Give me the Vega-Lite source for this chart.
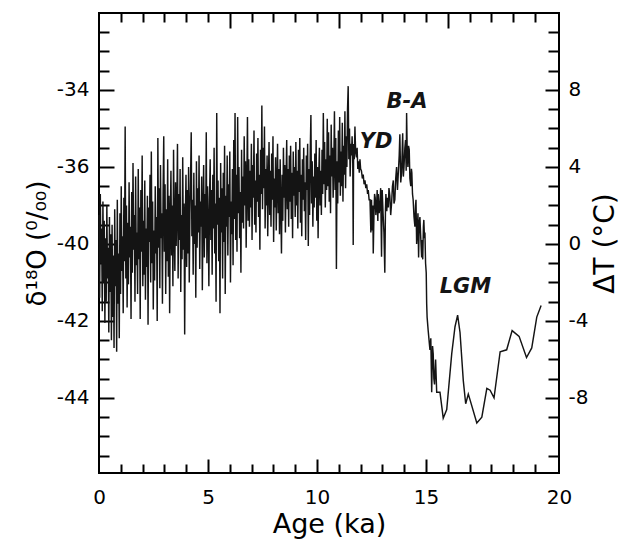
{
"$schema":"https://vega.github.io/schema/vega-lite/v6.json",
"width":460,"height":460,
"autosize":{"type":"none"},
"padding":{"left":99,"top":13,"right":66,"bottom":69},
"background":"white",
"config":{"view":{"stroke":"black","strokeWidth":2},"font":"DejaVu Sans",
"axis":{"domain":false,"grid":false,"labelFont":"DejaVu Sans","titleFont":"DejaVu Sans","labelColor":"black","titleColor":"black","tickColor":"black","tickWidth":2,"titleFontWeight":"normal","labelFontSize":20}},
"datasets":{
"series":[
{"age":0,"dT":1.5},{"age":0.03,"dT":-2.8},{"age":0.06,"dT":2.6},{"age":0.09,"dT":-1.0},{"age":0.12,"dT":0.8},{"age":0.15,"dT":-3.5},{"age":0.18,"dT":2.2},{"age":0.21,"dT":-2.0},{"age":0.24,"dT":1.2},{"age":0.27,"dT":-4.1},
{"age":0.3,"dT":0.3},{"age":0.33,"dT":-3.0},{"age":0.36,"dT":2.0},{"age":0.39,"dT":-1.8},{"age":0.42,"dT":-0.2},{"age":0.45,"dT":-4.6},{"age":0.48,"dT":1.4},{"age":0.51,"dT":-2.5},{"age":0.54,"dT":0.5},{"age":0.57,"dT":-5.0},
{"age":0.6,"dT":1.0},{"age":0.63,"dT":-3.8},{"age":0.66,"dT":-0.6},{"age":0.69,"dT":-5.4},{"age":0.72,"dT":1.8},{"age":0.75,"dT":-2.2},{"age":0.78,"dT":0.2},{"age":0.81,"dT":-5.6},{"age":0.84,"dT":2.3},{"age":0.87,"dT":-3.1},
{"age":0.9,"dT":-0.5},{"age":0.93,"dT":-4.9},{"age":0.96,"dT":1.6},{"age":0.99,"dT":-2.6},{"age":1.02,"dT":3.0},{"age":1.05,"dT":-1.4},{"age":1.08,"dT":0.4},{"age":1.11,"dT":-3.6},{"age":1.14,"dT":2.4},{"age":1.17,"dT":-0.9},
{"age":1.2,"dT":6.1},{"age":1.23,"dT":-1.8},{"age":1.26,"dT":2.0},{"age":1.29,"dT":-3.3},{"age":1.32,"dT":1.1},{"age":1.35,"dT":-2.1},{"age":1.38,"dT":3.2},{"age":1.41,"dT":-0.7},{"age":1.44,"dT":0.9},{"age":1.47,"dT":-3.9},
{"age":1.5,"dT":2.7},{"age":1.53,"dT":-1.5},{"age":1.56,"dT":4.2},{"age":1.59,"dT":-0.3},{"age":1.62,"dT":1.5},{"age":1.65,"dT":-3.0},{"age":1.68,"dT":3.5},{"age":1.71,"dT":-1.1},{"age":1.74,"dT":0.6},{"age":1.77,"dT":-2.6},
{"age":1.8,"dT":3.9},{"age":1.83,"dT":-0.8},{"age":1.86,"dT":1.9},{"age":1.89,"dT":-3.9},{"age":1.92,"dT":2.8},{"age":1.95,"dT":-0.4},{"age":1.98,"dT":4.6},{"age":2.01,"dT":-2.2},{"age":2.04,"dT":1.2},{"age":2.07,"dT":-1.6},
{"age":2.1,"dT":3.3},{"age":2.13,"dT":-2.9},{"age":2.16,"dT":0.8},{"age":2.19,"dT":-1.2},{"age":2.22,"dT":2.5},{"age":2.25,"dT":-4.2},{"age":2.28,"dT":1.9},{"age":2.31,"dT":0.1},{"age":2.34,"dT":3.6},{"age":2.37,"dT":-2.0},
{"age":2.4,"dT":4.8},{"age":2.43,"dT":-1.0},{"age":2.46,"dT":2.2},{"age":2.49,"dT":-3.4},{"age":2.52,"dT":0.7},{"age":2.55,"dT":-1.9},{"age":2.58,"dT":3.0},{"age":2.61,"dT":-0.5},{"age":2.64,"dT":1.4},{"age":2.67,"dT":-4.0},
{"age":2.7,"dT":5.5},{"age":2.73,"dT":-0.2},{"age":2.76,"dT":2.9},{"age":2.79,"dT":-2.3},{"age":2.82,"dT":4.1},{"age":2.85,"dT":0.3},{"age":2.88,"dT":1.6},{"age":2.91,"dT":-3.1},{"age":2.94,"dT":2.7},{"age":2.97,"dT":5.6},
{"age":3.0,"dT":-0.4},{"age":3.03,"dT":3.1},{"age":3.06,"dT":-2.6},{"age":3.09,"dT":1.8},{"age":3.12,"dT":-0.9},{"age":3.15,"dT":4.4},{"age":3.18,"dT":-1.7},{"age":3.21,"dT":2.5},{"age":3.24,"dT":-3.6},{"age":3.27,"dT":1.3},
{"age":3.3,"dT":3.8},{"age":3.33,"dT":-0.6},{"age":3.36,"dT":2.0},{"age":3.39,"dT":-2.2},{"age":3.42,"dT":4.9},{"age":3.45,"dT":0.5},{"age":3.48,"dT":-1.4},{"age":3.51,"dT":3.2},{"age":3.54,"dT":-0.1},{"age":3.57,"dT":1.9},
{"age":3.6,"dT":5.2},{"age":3.63,"dT":-1.8},{"age":3.66,"dT":2.6},{"age":3.69,"dT":0.2},{"age":3.72,"dT":3.9},{"age":3.75,"dT":-2.5},{"age":3.78,"dT":1.5},{"age":3.81,"dT":-0.8},{"age":3.84,"dT":4.5},{"age":3.87,"dT":-0.3},
{"age":3.9,"dT":2.1},{"age":3.93,"dT":-4.7},{"age":3.96,"dT":1.2},{"age":3.99,"dT":3.6},{"age":4.02,"dT":-1.2},{"age":4.05,"dT":2.8},{"age":4.08,"dT":-0.5},{"age":4.11,"dT":4.0},{"age":4.14,"dT":-2.0},{"age":4.17,"dT":1.6},
{"age":4.2,"dT":3.4},{"age":4.23,"dT":5.8},{"age":4.26,"dT":0.4},{"age":4.29,"dT":2.3},{"age":4.32,"dT":-1.6},{"age":4.35,"dT":3.7},{"age":4.38,"dT":0.0},{"age":4.41,"dT":2.0},{"age":4.44,"dT":-2.8},{"age":4.47,"dT":4.3},
{"age":4.5,"dT":-0.2},{"age":4.53,"dT":2.9},{"age":4.56,"dT":0.6},{"age":4.59,"dT":4.6},{"age":4.62,"dT":-1.3},{"age":4.65,"dT":2.2},{"age":4.68,"dT":0.9},{"age":4.71,"dT":3.5},{"age":4.74,"dT":-2.4},{"age":4.77,"dT":1.7},
{"age":4.8,"dT":4.1},{"age":4.83,"dT":-0.7},{"age":4.86,"dT":2.6},{"age":4.89,"dT":0.3},{"age":4.92,"dT":5.8},{"age":4.95,"dT":-1.0},{"age":4.98,"dT":3.0},{"age":5.01,"dT":1.1},{"age":5.04,"dT":-2.2},{"age":5.07,"dT":2.4},
{"age":5.1,"dT":4.4},{"age":5.13,"dT":0.2},{"age":5.16,"dT":2.8},{"age":5.19,"dT":-1.6},{"age":5.22,"dT":3.6},{"age":5.25,"dT":0.8},{"age":5.28,"dT":5.0},{"age":5.31,"dT":-0.5},{"age":5.34,"dT":2.1},{"age":5.37,"dT":-3.0},
{"age":5.4,"dT":6.8},{"age":5.43,"dT":1.0},{"age":5.46,"dT":3.3},{"age":5.49,"dT":-0.9},{"age":5.52,"dT":2.4},{"age":5.55,"dT":-3.6},{"age":5.58,"dT":4.2},{"age":5.61,"dT":0.6},{"age":5.64,"dT":2.9},{"age":5.67,"dT":-1.8},
{"age":5.7,"dT":3.7},{"age":5.73,"dT":0.1},{"age":5.76,"dT":5.1},{"age":5.79,"dT":-2.6},{"age":5.82,"dT":2.5},{"age":5.85,"dT":0.9},{"age":5.88,"dT":4.6},{"age":5.91,"dT":-0.6},{"age":5.94,"dT":3.1},{"age":5.97,"dT":1.4},
{"age":6.0,"dT":4.8},{"age":6.03,"dT":-2.0},{"age":6.06,"dT":2.2},{"age":6.09,"dT":0.5},{"age":6.12,"dT":3.9},{"age":6.15,"dT":-1.1},{"age":6.18,"dT":5.4},{"age":6.21,"dT":1.3},{"age":6.24,"dT":6.8},{"age":6.27,"dT":0.2},
{"age":6.3,"dT":3.6},{"age":6.33,"dT":-0.4},{"age":6.36,"dT":6.6},{"age":6.39,"dT":1.6},{"age":6.42,"dT":4.0},{"age":6.45,"dT":0.3},{"age":6.48,"dT":2.7},{"age":6.51,"dT":-1.5},{"age":6.54,"dT":4.9},{"age":6.57,"dT":1.1},
{"age":6.6,"dT":3.5},{"age":6.63,"dT":0.8},{"age":6.66,"dT":5.6},{"age":6.69,"dT":2.0},{"age":6.72,"dT":4.3},{"age":6.75,"dT":-0.2},{"age":6.78,"dT":3.0},{"age":6.81,"dT":6.6},{"age":6.84,"dT":1.2},{"age":6.87,"dT":4.4},
{"age":6.9,"dT":0.9},{"age":6.93,"dT":3.8},{"age":6.96,"dT":1.9},{"age":6.99,"dT":5.2},{"age":7.02,"dT":0.2},{"age":7.05,"dT":4.1},{"age":7.08,"dT":2.4},{"age":7.11,"dT":5.9},{"age":7.14,"dT":1.0},{"age":7.17,"dT":3.3},
{"age":7.2,"dT":0.6},{"age":7.23,"dT":4.7},{"age":7.26,"dT":2.2},{"age":7.29,"dT":5.5},{"age":7.32,"dT":1.4},{"age":7.35,"dT":3.6},{"age":7.38,"dT":-0.3},{"age":7.41,"dT":4.9},{"age":7.44,"dT":2.6},{"age":7.47,"dT":7.2},
{"age":7.5,"dT":1.8},{"age":7.53,"dT":5.0},{"age":7.56,"dT":2.9},{"age":7.59,"dT":6.1},{"age":7.62,"dT":0.8},{"age":7.65,"dT":3.9},{"age":7.68,"dT":2.0},{"age":7.71,"dT":4.6},{"age":7.74,"dT":0.4},{"age":7.77,"dT":3.2},
{"age":7.8,"dT":5.3},{"age":7.83,"dT":1.5},{"age":7.86,"dT":3.8},{"age":7.89,"dT":0.9},{"age":7.92,"dT":4.7},{"age":7.95,"dT":2.3},{"age":7.98,"dT":5.6},{"age":8.01,"dT":0.1},{"age":8.04,"dT":3.4},{"age":8.07,"dT":1.9},
{"age":8.1,"dT":4.5},{"age":8.13,"dT":0.7},{"age":8.16,"dT":3.1},{"age":8.19,"dT":5.2},{"age":8.22,"dT":1.6},{"age":8.25,"dT":3.9},{"age":8.28,"dT":0.5},{"age":8.31,"dT":4.4},{"age":8.34,"dT":2.0},{"age":8.37,"dT":-0.5},
{"age":8.4,"dT":3.6},{"age":8.43,"dT":1.2},{"age":8.46,"dT":5.0},{"age":8.49,"dT":2.4},{"age":8.52,"dT":4.1},{"age":8.55,"dT":0.6},{"age":8.58,"dT":3.3},{"age":8.61,"dT":5.4},{"age":8.64,"dT":1.8},{"age":8.67,"dT":3.9},
{"age":8.7,"dT":0.9},{"age":8.73,"dT":4.6},{"age":8.76,"dT":2.2},{"age":8.79,"dT":5.1},{"age":8.82,"dT":1.3},{"age":8.85,"dT":3.7},{"age":8.88,"dT":0.3},{"age":8.91,"dT":4.8},{"age":8.94,"dT":2.5},{"age":8.97,"dT":4.0},
{"age":9.0,"dT":1.4},{"age":9.03,"dT":5.3},{"age":9.06,"dT":2.0},{"age":9.09,"dT":3.8},{"age":9.12,"dT":0.8},{"age":9.15,"dT":4.9},{"age":9.18,"dT":2.7},{"age":9.21,"dT":5.5},{"age":9.24,"dT":1.1},{"age":9.27,"dT":3.6},
{"age":9.3,"dT":0.4},{"age":9.33,"dT":4.4},{"age":9.36,"dT":2.3},{"age":9.39,"dT":5.0},{"age":9.42,"dT":1.7},{"age":9.45,"dT":3.2},{"age":9.48,"dT":0.2},{"age":9.51,"dT":4.6},{"age":9.54,"dT":2.8},{"age":9.57,"dT":5.2},
{"age":9.6,"dT":-0.1},{"age":9.63,"dT":3.9},{"age":9.66,"dT":1.5},{"age":9.69,"dT":4.8},{"age":9.72,"dT":6.7},{"age":9.75,"dT":2.1},{"age":9.78,"dT":4.3},{"age":9.81,"dT":0.9},{"age":9.84,"dT":3.5},{"age":9.87,"dT":1.9},
{"age":9.9,"dT":4.7},{"age":9.93,"dT":2.4},{"age":9.96,"dT":5.4},{"age":9.99,"dT":1.2},{"age":10.02,"dT":4.0},{"age":10.05,"dT":0.3},{"age":10.08,"dT":3.6},{"age":10.11,"dT":5.0},{"age":10.14,"dT":2.0},{"age":10.17,"dT":3.8},
{"age":10.2,"dT":1.5},{"age":10.23,"dT":4.9},{"age":10.26,"dT":2.6},{"age":10.29,"dT":6.8},{"age":10.32,"dT":3.1},{"age":10.35,"dT":5.3},{"age":10.38,"dT":1.9},{"age":10.41,"dT":4.4},{"age":10.44,"dT":2.8},{"age":10.47,"dT":6.5},
{"age":10.5,"dT":3.0},{"age":10.53,"dT":5.8},{"age":10.56,"dT":2.2},{"age":10.59,"dT":4.6},{"age":10.62,"dT":1.6},{"age":10.65,"dT":6.2},{"age":10.68,"dT":3.5},{"age":10.71,"dT":5.0},{"age":10.74,"dT":2.4},{"age":10.77,"dT":4.1},
{"age":10.8,"dT":6.9},{"age":10.83,"dT":2.8},{"age":10.86,"dT":5.5},{"age":10.89,"dT":-1.3},{"age":10.92,"dT":4.3},{"age":10.95,"dT":2.1},{"age":10.98,"dT":5.9},{"age":11.01,"dT":3.2},{"age":11.04,"dT":6.6},{"age":11.07,"dT":2.5},
{"age":11.1,"dT":4.8},{"age":11.13,"dT":3.0},{"age":11.16,"dT":6.3},{"age":11.19,"dT":2.2},{"age":11.22,"dT":5.1},{"age":11.25,"dT":3.6},{"age":11.28,"dT":6.9},{"age":11.31,"dT":2.9},{"age":11.34,"dT":5.6},{"age":11.37,"dT":4.0},
{"age":11.4,"dT":7.0},{"age":11.43,"dT":8.2},{"age":11.46,"dT":4.4},{"age":11.49,"dT":6.0},{"age":11.52,"dT":3.5},{"age":11.55,"dT":5.2},{"age":11.58,"dT":4.6},
{"age":11.61,"dT":5.6},{"age":11.64,"dT":4.2},{"age":11.66,"dT":-0.05},{"age":11.68,"dT":5.2},{"age":11.71,"dT":4.4},{"age":11.74,"dT":6.1},{"age":11.77,"dT":4.8},{"age":11.81,"dT":4.5},{"age":11.84,"dT":5.0},{"age":11.87,"dT":3.9},
{"age":11.9,"dT":4.3},{"age":11.94,"dT":3.7},{"age":11.97,"dT":4.4},{"age":12.0,"dT":3.9},{"age":12.04,"dT":3.8},{"age":12.08,"dT":3.4},{"age":12.12,"dT":3.6},{"age":12.16,"dT":3.1},{"age":12.2,"dT":3.3},{"age":12.24,"dT":2.9},
{"age":12.28,"dT":3.1},{"age":12.32,"dT":2.6},{"age":12.35,"dT":2.8},{"age":12.39,"dT":2.3},{"age":12.43,"dT":2.3},{"age":12.47,"dT":0.6},{"age":12.5,"dT":2.3},{"age":12.53,"dT":0.7},{"age":12.56,"dT":2.0},{"age":12.58,"dT":-0.5},
{"age":12.61,"dT":1.4},{"age":12.64,"dT":2.6},{"age":12.67,"dT":2.4},{"age":12.7,"dT":1.5},{"age":12.73,"dT":1.9},{"age":12.76,"dT":2.8},{"age":12.79,"dT":1.2},{"age":12.81,"dT":2.6},{"age":12.85,"dT":1.6},{"age":12.88,"dT":1.9},
{"age":12.92,"dT":2.9},{"age":12.96,"dT":-0.66},{"age":12.99,"dT":2.8},{"age":13.03,"dT":1.6},{"age":13.07,"dT":0.6},{"age":13.11,"dT":-1.5},{"age":13.14,"dT":1.8},{"age":13.16,"dT":2.6},{"age":13.2,"dT":1.7},{"age":13.23,"dT":2.4},
{"age":13.27,"dT":1.9},{"age":13.3,"dT":2.9},{"age":13.34,"dT":2.5},{"age":13.38,"dT":1.5},{"age":13.42,"dT":2.1},{"age":13.46,"dT":3.0},{"age":13.5,"dT":3.3},{"age":13.53,"dT":2.1},{"age":13.57,"dT":2.3},{"age":13.61,"dT":3.4},
{"age":13.65,"dT":4.0},{"age":13.69,"dT":2.8},{"age":13.73,"dT":3.7},{"age":13.77,"dT":4.6},{"age":13.8,"dT":5.7},{"age":13.84,"dT":3.2},{"age":13.88,"dT":3.7},{"age":13.93,"dT":5.75},{"age":13.96,"dT":3.5},{"age":13.99,"dT":4.0},
{"age":14.03,"dT":5.0},{"age":14.06,"dT":5.4},{"age":14.09,"dT":3.8},{"age":14.11,"dT":6.8},{"age":14.14,"dT":4.6},{"age":14.17,"dT":4.0},{"age":14.2,"dT":5.1},{"age":14.23,"dT":4.9},{"age":14.26,"dT":3.4},{"age":14.3,"dT":3.0},
{"age":14.33,"dT":3.9},{"age":14.35,"dT":3.7},{"age":14.38,"dT":2.6},{"age":14.41,"dT":2.3},{"age":14.45,"dT":1.4},{"age":14.49,"dT":0.9},{"age":14.52,"dT":2.0},{"age":14.54,"dT":2.3},{"age":14.57,"dT":0.0},{"age":14.6,"dT":0.6},
{"age":14.63,"dT":1.6},{"age":14.66,"dT":-0.7},{"age":14.69,"dT":1.1},{"age":14.72,"dT":1.4},{"age":14.76,"dT":0.3},{"age":14.8,"dT":-0.7},{"age":14.83,"dT":0.2},{"age":14.85,"dT":-0.8},{"age":14.88,"dT":0.9},{"age":14.9,"dT":1.25},
{"age":14.93,"dT":0.3},{"age":14.95,"dT":0.6},{"age":14.98,"dT":-1.0},{"age":15.01,"dT":-1.5},{"age":15.03,"dT":-3.1},{"age":15.05,"dT":-3.8},{"age":15.1,"dT":-4.5},{"age":15.18,"dT":-5.5},{"age":15.22,"dT":-4.9},{"age":15.26,"dT":-7.7},
{"age":15.3,"dT":-5.3},{"age":15.33,"dT":-5.7},{"age":15.36,"dT":-7.0},{"age":15.39,"dT":-7.3},{"age":15.44,"dT":-6.0},{"age":15.49,"dT":-7.7},{"age":15.64,"dT":-7.7},{"age":15.79,"dT":-9.05},{"age":15.95,"dT":-8.6},{"age":16.18,"dT":-5.7},
{"age":16.33,"dT":-4.3},{"age":16.45,"dT":-3.7},{"age":16.56,"dT":-4.6},{"age":16.71,"dT":-7.1},{"age":16.82,"dT":-8.3},{"age":16.94,"dT":-7.8},{"age":17.02,"dT":-8.1},{"age":17.33,"dT":-9.3},{"age":17.56,"dT":-9.0},{"age":17.79,"dT":-7.5},
{"age":17.94,"dT":-7.6},{"age":18.12,"dT":-8.0},{"age":18.4,"dT":-5.6},{"age":18.7,"dT":-5.5},{"age":18.95,"dT":-4.5},{"age":19.27,"dT":-4.8},{"age":19.61,"dT":-5.9},{"age":19.85,"dT":-5.4},{"age":20.08,"dT":-3.8},{"age":20.28,"dT":-3.2}
],
"notes":[{"label":"B-A","age":14.13,"dT":7.38},{"label":"YD","age":12.71,"dT":5.28},{"label":"LGM","age":16.81,"dT":-2.24}],
"anchor":[{"age":0,"dT":0}]
},
"layer":[
{"data":{"name":"series"},"mark":{"type":"line","color":"#141414","strokeWidth":1.45},
 "encoding":{
  "x":{"field":"age","type":"quantitative","scale":{"domain":[0,21.1],"nice":false,"zero":false},
   "axis":{"orient":"bottom","ticks":false,"values":[0,5,10,15,21.1],"labelExpr":"datum.value > 20 ? '20' : toString(datum.value)","labelFlush":false,"labelPadding":14,"labelFontSize":20,"title":"Age (ka)","titleFontSize":27,"titlePadding":4}},
  "y":{"field":"dT","type":"quantitative","scale":{"domain":[-11.9,12],"nice":false,"zero":false},
   "axis":{"orient":"left","ticks":false,"values":[-8,-4,0,4,8],"labelExpr":"datum.value == 8 ? '-34' : datum.value == 4 ? '-36' : datum.value == 0 ? '-40' : datum.value == -4 ? '-42' : '-44'","labelPadding":10,"labelFontSize":20,"title":"δ¹⁸O (⁰/₀₀)","titleFontSize":26,"titlePadding":6}}}},
{"data":{"name":"notes"},"mark":{"type":"text","font":"DejaVu Sans","fontSize":21,"fontWeight":"bold","fontStyle":"italic","color":"#141414","align":"center","baseline":"middle"},
 "encoding":{
  "x":{"field":"age","type":"quantitative","scale":{"domain":[0,21.1],"nice":false,"zero":false},
   "axis":{"orient":"bottom","labels":false,"title":null,"tickSize":-9,"values":[1,2,3,4,6,7,8,9,11,12,13,14,16,17,18,19,20]}},
  "y":{"field":"dT","type":"quantitative","scale":{"domain":[-11.9,12],"nice":false,"zero":false},
   "axis":{"orient":"left","labels":false,"title":null,"tickSize":-10,"values":[-11,-10,-9,-7,-6,-5,-3,-2,-1,1,2,3,5,6,7,9,10,11]}},
  "text":{"field":"label"}}},
{"data":{"name":"anchor"},"mark":{"type":"point","opacity":0},
 "encoding":{
  "x":{"field":"age","type":"quantitative","scale":{"domain":[0,21.1],"nice":false,"zero":false},
   "axis":{"orient":"bottom","labels":false,"title":null,"tickSize":-14,"values":[5,10,15]}},
  "y":{"field":"dT","type":"quantitative","scale":{"domain":[-11.9,12],"nice":false,"zero":false},
   "axis":{"orient":"left","labels":false,"title":null,"tickSize":-15,"values":[-8,-4,0,4,8]}}}},
{"data":{"name":"anchor"},"mark":{"type":"point","opacity":0},
 "encoding":{
  "x":{"field":"age","type":"quantitative","scale":{"domain":[0,21.1],"nice":false,"zero":false},
   "axis":{"orient":"top","labels":false,"title":null,"tickSize":-9,"values":[1,2,3,4,5,7,8,9,10,12,13,14,15,17,18,19,20]}},
  "y":{"field":"dT","type":"quantitative","scale":{"domain":[-11.9,12],"nice":false,"zero":false},
   "axis":{"orient":"right","labels":false,"title":null,"tickSize":-11,"values":[-11,-10,-9,-7,-6,-5,-3,-2,-1,1,2,3,5,6,7,9,10,11]}}}},
{"data":{"name":"anchor"},"mark":{"type":"point","opacity":0},
 "encoding":{
  "x":{"field":"age","type":"quantitative","scale":{"domain":[0,21.1],"nice":false,"zero":false},
   "axis":{"orient":"top","labels":false,"title":null,"tickSize":-15,"values":[6,11,16]}},
  "y":{"field":"dT","type":"quantitative","scale":{"domain":[-11.9,12],"nice":false,"zero":false},
   "axis":{"orient":"right","labels":false,"title":null,"tickSize":-14,"values":[-8,-4,0,4,8]}}}},
{"data":{"name":"anchor"},"mark":{"type":"point","opacity":0},
 "encoding":{
  "x":{"field":"age","type":"quantitative","scale":{"domain":[0,21.1],"nice":false,"zero":false},"axis":null},
  "y":{"field":"dT","type":"quantitative","scale":{"domain":[-11.9,12],"nice":false,"zero":false},
   "axis":{"orient":"right","ticks":false,"values":[-8,-4,0,4,8],"labelExpr":"toString(datum.value)","labelPadding":9,"labelFontSize":20,"title":"ΔT (°C)","titleFontSize":28,"titleAngle":270,"titleBaseline":"top","titlePadding":4}}}}
],
"resolve":{"axis":{"x":"independent","y":"independent"}}
}
